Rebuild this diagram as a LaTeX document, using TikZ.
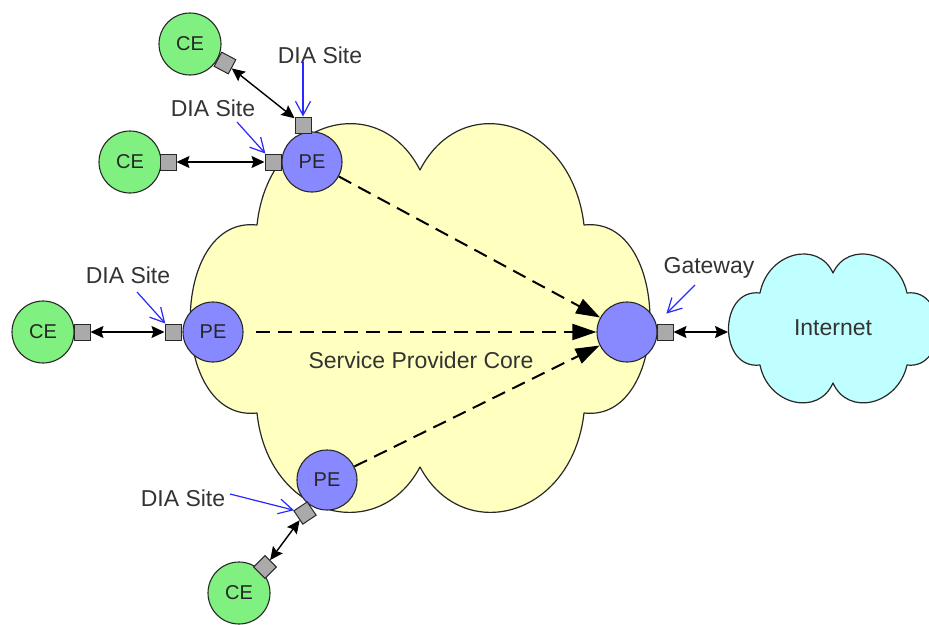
\documentclass[tikz,border=0pt]{standalone}
\usepackage{fontspec}
\setmainfont{Liberation Sans}
\usetikzlibrary{arrows.meta}

\definecolor{coreyellow}{RGB}{255,255,192}
\definecolor{netcyan}{RGB}{192,255,255}
\definecolor{cegreen}{RGB}{128,240,128}
\definecolor{peblue}{RGB}{136,136,255}
\definecolor{portgray}{RGB}{170,170,170}
\definecolor{linegray}{RGB}{40,40,40}
\definecolor{labelgray}{RGB}{51,51,51}
\definecolor{pointerblue}{RGB}{40,40,255}

\begin{document}
\begin{tikzpicture}[x=1pt,y=-1pt,
  cloud/.style={draw=linegray,line width=1.2pt,line join=round},
  ce/.style={circle,draw=linegray,line width=1.1pt,fill=cegreen,minimum size=62pt,
    inner sep=0pt,font=\fontsize{20}{24}\selectfont,text=black!85},
  pe/.style={circle,draw=linegray,line width=1.1pt,fill=peblue,minimum size=60pt,
    inner sep=0pt,font=\fontsize{20}{24}\selectfont,text=black!85},
  port/.style={rectangle,draw=linegray,line width=1pt,fill=portgray,
    minimum size=16pt,inner sep=0pt},
  lbl/.style={font=\fontsize{23}{27}\selectfont,text=labelgray,inner sep=0pt},
  link/.style={draw=black,line width=1.4pt,
    {Stealth[length=13pt,width=12pt,inset=2pt]}-{Stealth[length=13pt,width=12pt,inset=2pt]}},
  flow/.style={draw=black,line width=2pt,dash pattern=on 14pt off 8pt,
    -{Triangle[length=24pt,width=16pt]}},
  pointer/.style={draw=pointerblue,line width=1.2pt,
    -{Straight Barb[length=14pt,width=15pt]}},
]
\useasboundingbox (0,0) rectangle (929,624);

% provider core cloud
\path[cloud,fill=coreyellow]
  (257,225) .. controls (268,120) and (378,88) .. (420,170)
  .. controls (462,88) and (572,120) .. (584,225)
  .. controls (672,215) and (672,423) .. (584,413)
  .. controls (572,518) and (462,546) .. (420,467)
  .. controls (378,546) and (268,518) .. (257,413)
  .. controls (168,423) and (168,215) .. (257,225) -- cycle;
\node[lbl] (core) at (421,360) {Service Provider Core};

% internet cloud
\path[cloud,fill=netcyan]
  (760,293) .. controls (768,252) and (818,240) .. (833,273)
  .. controls (848,240) and (898,252) .. (907,293)
  .. controls (948,288) and (948,370) .. (907,365)
  .. controls (898,405) and (848,417) .. (833,383)
  .. controls (818,417) and (768,405) .. (760,365)
  .. controls (718,370) and (718,288) .. (760,293) -- cycle;
\node[lbl] (inet) at (833,328) {Internet};
\coordinate (inetL) at (728,332);

% customer and provider edges
\node[ce] (ce1) at (190,44) {CE};
\node[ce] (ce2) at (130,162) {CE};
\node[ce] (ce3) at (43,332) {CE};
\node[ce] (ce4) at (239,593) {CE};

\node[pe] (pe1) at (312,162) {PE};
\node[pe] (pe2) at (213,332) {PE};
\node[pe] (pe3) at (327,480) {PE};
\node[pe] (gw) at (627,332) {};

% interfaces
\node[port,rotate=-28] (p1a) at (225,63) {};
\node[port] (p1b) at (303,125) {};
\node[port] (p2a) at (168,162) {};
\node[port] (p2b) at (273,162) {};
\node[port] (p3a) at (82,332) {};
\node[port] (p3b) at (173,332) {};
\node[port,rotate=34] (p4a) at (305,513) {};
\node[port,rotate=45] (p4b) at (265,567) {};
\node[port] (pg) at (665,332) {};

% traffic through the core
\draw[flow] (pe1) -- (gw);
\draw[flow,shorten <=12pt] (pe2) -- (gw);
\draw[flow] (pe3) -- (gw);

% access links
\draw[link] (p1a) -- (p1b);
\draw[link] (p2a) -- (p2b);
\draw[link] (p3a) -- (p3b);
\draw[link] (p4a) -- (p4b);
\draw[link] (pg) -- (inetL);

% labels and pointers
\node[lbl] (lab1) at (320,55) {DIA Site};
\node[lbl] (lab2) at (213,108) {DIA Site};
\node[lbl] (lab3) at (128,275) {DIA Site};
\node[lbl] (lab4) at (183,498) {DIA Site};
\node[lbl] (labg) at (709,268) {Gateway};

\coordinate (t1) at (303,62);
\coordinate (t2) at (237,122);
\coordinate (t3) at (137,292);
\coordinate (t4) at (230,494);
\coordinate (tg) at (695,285);

\draw[pointer] (t1) -- (p1b);
\draw[pointer] (t2) -- (p2b);
\draw[pointer] (t3) -- (p3b);
\draw[pointer] (t4) -- (p4a);
\draw[pointer,shorten >=14pt] (tg) -- (pg.north west);
\end{tikzpicture}
\end{document}
